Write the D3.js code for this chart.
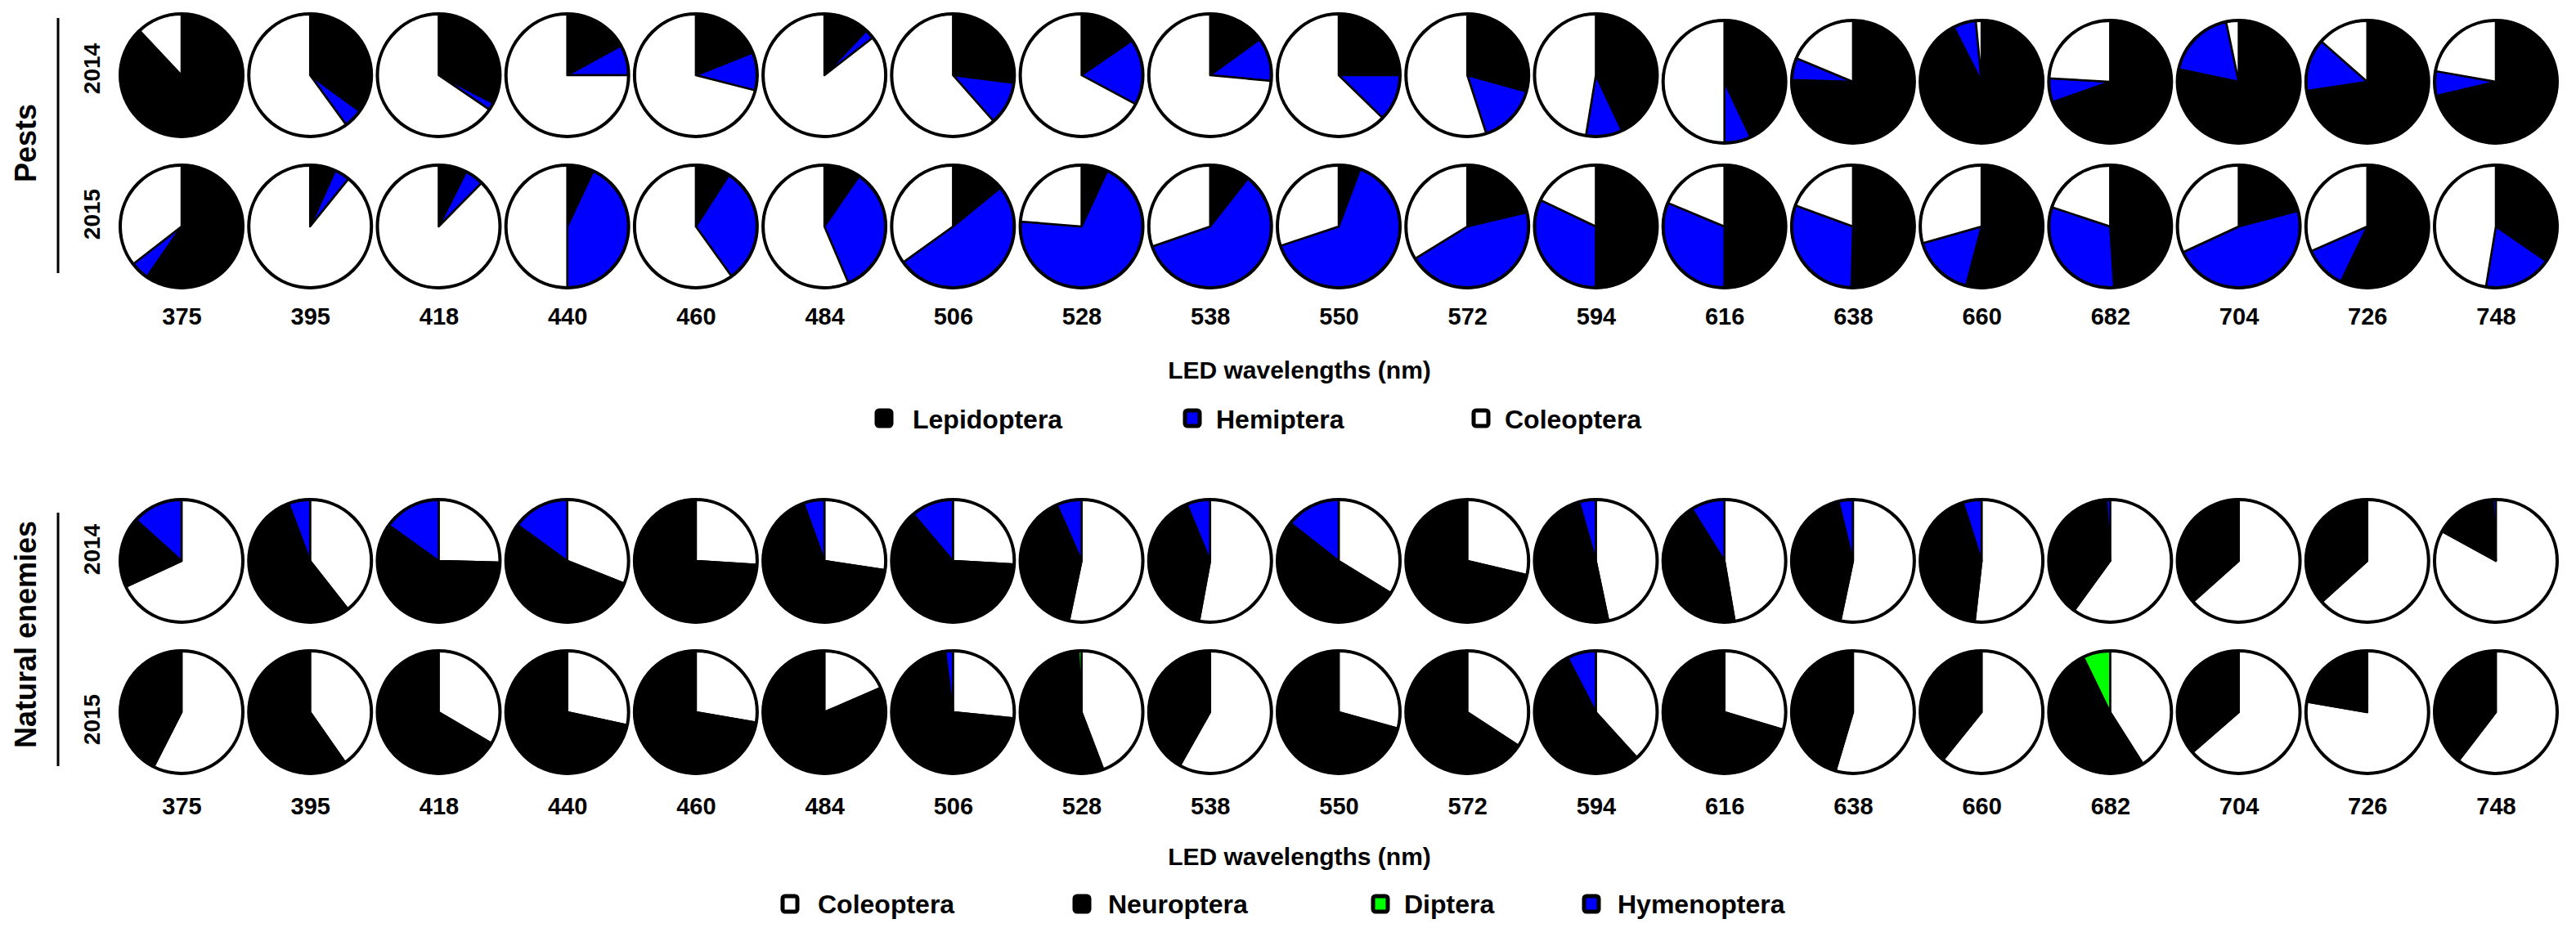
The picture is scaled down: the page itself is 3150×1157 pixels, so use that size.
<!DOCTYPE html>
<html>
<head>
<meta charset="utf-8">
<script src="https://cdnjs.cloudflare.com/ajax/libs/d3/7.8.5/d3.min.js"></script>
<style>
  html, body { margin: 0; padding: 0; background: #fff; }
  svg { display: block; }
  text { font-family: "Liberation Sans", Arial, sans-serif; font-weight: bold; fill: #000; }
</style>
</head>
<body>
<svg id="chart" width="3150" height="1157"></svg>
<script>
// ---------------- DATA ----------------
const wavelengths = [375, 395, 418, 440, 460, 484, 506, 528, 538, 550, 572, 594, 616, 638, 660, 682, 704, 726, 748];

// Pests (% of catch): Lepidoptera, Hemiptera, Coleoptera
const pestSeries = ["Lepidoptera", "Hemiptera", "Coleoptera"];
const pestColors = ["#000000", "#0000ff", "#ffffff"];

const pests2014Lepidoptera = [88, 35, 32.5, 17, 19, 12, 27, 15.4, 15, 25, 29.3, 43, 43, 75.5, 92.5, 69.6, 78.3, 72.6, 71.3];
const pests2014Hemiptera   = [0, 5, 2, 8, 10, 2.5, 11.5, 17.4, 11.5, 12.3, 15.7, 9.6, 7, 5.8, 6, 6.3, 18.4, 13.9, 6.5];
const pests2014Coleoptera  = [12, 60, 65.5, 75, 71, 85.5, 61.5, 67.2, 73.5, 62.7, 55, 47.4, 50, 18.7, 1.5, 24.1, 3.3, 13.5, 22.2];

const pests2015Lepidoptera = [59.6, 6.7, 7.4, 7, 9.1, 9.6, 14.1, 6.9, 10.6, 5.7, 21.3, 50, 50, 50.4, 54.1, 49, 20.9, 57.1, 34.6];
const pests2015Hemiptera   = [4.9, 4.1, 5, 43, 31, 34, 51, 69.4, 59.1, 64.2, 44.9, 32.1, 31.3, 30.2, 16.5, 31.1, 47.2, 11.3, 18];
const pests2015Coleoptera  = [35.5, 89.2, 87.6, 50, 59.9, 56.4, 34.9, 23.7, 30.3, 30.1, 33.8, 17.9, 18.7, 19.4, 29.4, 19.9, 31.9, 31.6, 47.4];

// Natural enemies (% of catch): Coleoptera, Neuroptera, Diptera, Hymenoptera
const neSeries = ["Coleoptera", "Neuroptera", "Diptera", "Hymenoptera"];
const neColors = ["#ffffff", "#000000", "#00ff00", "#0000ff"];

const ne2014Coleoptera  = [68.1, 39.4, 25.4, 31, 26, 27.4, 25.9, 53.3, 52.9, 33.8, 28.7, 46.7, 47.3, 53.3, 51.8, 60, 63.4, 63.3, 83];
const ne2014Neuroptera  = [18.6, 54.9, 59.5, 54, 74, 67.1, 62.9, 40.1, 40.9, 51.8, 71.3, 48.9, 43.8, 42.9, 43.3, 39, 36.6, 36.7, 16.2];
const ne2014Diptera     = [0, 0, 0, 0, 0, 0, 0, 0, 0, 0, 0, 0, 0, 0, 0, 0, 0, 0, 0];
const ne2014Hymenoptera = [13.3, 5.7, 15.1, 15, 0, 5.5, 11.2, 6.6, 6.2, 14.4, 0, 4.4, 8.9, 3.8, 4.9, 1, 0, 0, 0.8];

const ne2015Coleoptera  = [57.5, 40.3, 33.5, 28.4, 27.7, 18.5, 26.6, 44.2, 58.2, 29.3, 34.2, 38.3, 29.6, 54.6, 60.8, 41, 63.6, 77.7, 60.4];
const ne2015Neuroptera  = [42.5, 59.7, 66.5, 71.6, 72.3, 81.5, 71.4, 55, 41.8, 70.7, 65.8, 54.1, 70.4, 45.4, 39.2, 51.8, 36.4, 22.3, 39.6];
const ne2015Diptera     = [0, 0, 0, 0, 0, 0, 0, 0.8, 0, 0, 0, 0, 0, 0, 0, 7.2, 0, 0, 0];
const ne2015Hymenoptera = [0, 0, 0, 0, 0, 0, 2, 0, 0, 0, 0, 7.6, 0, 0, 0, 0, 0, 0, 0];

const panelTitles = ["Pests", "Natural enemies"];
const yearLabels = ["2014", "2015"];
const axisTitle = "LED wavelengths (nm)";

// ---------------- LAYOUT ----------------
const svg = d3.select("#chart");
const R = 75;
const x = d3.scalePoint().domain(wavelengths).range([222, 3052]);

const rows = [
  { cy: 92,  series: [pests2014Lepidoptera, pests2014Hemiptera, pests2014Coleoptera], colors: pestColors, shiftFrom: 12, shift: 8 },
  { cy: 277, series: [pests2015Lepidoptera, pests2015Hemiptera, pests2015Coleoptera], colors: pestColors },
  { cy: 686, series: [ne2014Coleoptera, ne2014Neuroptera, ne2014Diptera, ne2014Hymenoptera], colors: neColors },
  { cy: 871, series: [ne2015Coleoptera, ne2015Neuroptera, ne2015Diptera, ne2015Hymenoptera], colors: neColors }
];

const pie = d3.pie().sort(null).value(d => d.v).startAngle(0).endAngle(2 * Math.PI);
const arc = d3.arc().innerRadius(0).outerRadius(R);

rows.forEach(row => {
  wavelengths.forEach((w, i) => {
    const vals = row.series.map((s, k) => ({ v: s[i], c: row.colors[k] })).filter(d => d.v > 0);
    const cy = row.cy + (row.shiftFrom !== undefined && i >= row.shiftFrom ? row.shift : 0);
    const g = svg.append("g").attr("transform", `translate(${x(w)},${cy})`);
    g.selectAll("path").data(pie(vals)).join("path")
      .attr("d", arc)
      .attr("fill", d => d.data.c)
      .attr("stroke", "#000")
      .attr("stroke-width", 2.5)
      .attr("stroke-linejoin", "round");
    g.append("circle").attr("r", R).attr("fill", "none").attr("stroke", "#000").attr("stroke-width", 4);
  });
});

// ---------------- AXES (tick labels) ----------------
[397, 996].forEach(by => {
  const ax = svg.append("g").attr("transform", `translate(0,${by})`)
    .call(d3.axisBottom(x).tickSize(0).tickPadding(0));
  ax.select(".domain").remove();
  ax.selectAll("text")
    .attr("y", 0).attr("dy", 0)
    .style("font-family", '"Liberation Sans", Arial, sans-serif')
    .style("font-weight", "bold")
    .style("font-size", "29px")
    .attr("fill", "#000");
});

// axis titles
[463, 1058].forEach(by => {
  svg.append("text").attr("x", 1589).attr("y", by).attr("text-anchor", "middle")
    .style("font-size", "30px").text(axisTitle);
});

// ---------------- LEFT LABELS ----------------
const panels = [
  { title: panelTitles[0], cy: 175, line: [22, 334], years: [84, 262] },
  { title: panelTitles[1], cy: 776, line: [627, 937], years: [672, 880] }
];
panels.forEach(p => {
  svg.append("text").attr("transform", `translate(44,${p.cy}) rotate(-90)`)
    .attr("text-anchor", "middle").style("font-size", "36px").text(p.title);
  svg.append("line").attr("x1", 71).attr("x2", 71).attr("y1", p.line[0]).attr("y2", p.line[1])
    .attr("stroke", "#000").attr("stroke-width", 3);
  p.years.forEach((yy, k) => {
    svg.append("text").attr("transform", `translate(122,${yy}) rotate(-90)`)
      .attr("text-anchor", "middle").style("font-size", "28px").text(yearLabels[k]);
  });
});

// ---------------- LEGENDS ----------------
const legends = [
  { names: pestSeries, colors: pestColors, sx: [1070, 1447, 1800], tx: [1116, 1487, 1840], sy: 500, ty: 524 },
  { names: neSeries, colors: neColors, sx: [955, 1312, 1677, 1935], tx: [1000, 1355, 1717, 1978], sy: 1094, ty: 1117 }
];
legends.forEach(L => {
  L.names.forEach((n, k) => {
    svg.append("rect").attr("x", L.sx[k] + 2).attr("y", L.sy + 2).attr("width", 18).attr("height", 19)
      .attr("rx", 3).attr("fill", L.colors[k]).attr("stroke", "#000").attr("stroke-width", 5);
    svg.append("text").attr("x", L.tx[k]).attr("y", L.ty).style("font-size", "32px").text(n);
  });
});
</script>
</body>
</html>
